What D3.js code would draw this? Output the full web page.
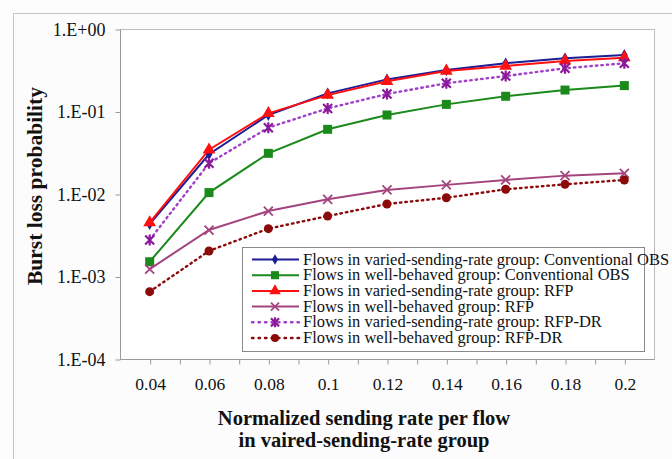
<!DOCTYPE html>
<html>
<head>
<meta charset="utf-8">
<script src="https://cdn.jsdelivr.net/npm/d3@7"></script>
<style>
  html, body { margin: 0; padding: 0; background: #fff; }
  svg { display: block; font-family: "Liberation Serif", "Times New Roman", serif; }
</style>
</head>
<body>
<div id="chart"></div>
<script>
// x values (normalized sending rate)
const rates = [0.04, 0.06, 0.08, 0.1, 0.12, 0.14, 0.16, 0.18, 0.2];
const xTickLabels = ["0.04", "0.06", "0.08", "0.1", "0.12", "0.14", "0.16", "0.18", "0.2"];
const yTickValues = [1e-4, 1e-3, 1e-2, 1e-1, 1];
const yTickLabels = ["1.E-04", "1.E-03", "1.E-02", "1.E-01", "1.E+00"];

// series values
const variedConv = [0.00433, 0.0303, 0.0907, 0.166, 0.245, 0.318, 0.384, 0.441, 0.484];
const wellConv = [0.00151, 0.0104, 0.0311, 0.0608, 0.0907, 0.122, 0.153, 0.182, 0.206];
const variedRfp = [0.00449, 0.0344, 0.095, 0.158, 0.232, 0.31, 0.356, 0.41, 0.449];
const wellRfp = [0.00123, 0.00366, 0.00622, 0.00863, 0.0112, 0.0129, 0.0148, 0.0167, 0.0178];
const variedRfpDr = [0.00277, 0.0236, 0.0637, 0.109, 0.163, 0.22, 0.269, 0.334, 0.384];
const wellRfpDr = [0.000655, 0.00204, 0.0038, 0.0054, 0.00757, 0.009, 0.0114, 0.0131, 0.0148];

const seriesNames = [
  "Flows in varied-sending-rate group: Conventional OBS",
  "Flows in well-behaved group: Conventional OBS",
  "Flows in varied-sending-rate group: RFP",
  "Flows in well-behaved group: RFP",
  "Flows in varied-sending-rate group: RFP-DR",
  "Flows in well-behaved group: RFP-DR"
];

const series = [
  { name: seriesNames[0], values: variedConv, color: "#1c1c96", marker: "diamond", dash: null },
  { name: seriesNames[1], values: wellConv, color: "#1a8a1a", marker: "square", dash: null },
  { name: seriesNames[2], values: variedRfp, color: "#ff1010", marker: "triangle", dash: null },
  { name: seriesNames[3], values: wellRfp, color: "#a4447e", marker: "x", dash: null },
  { name: seriesNames[4], values: variedRfpDr, color: "#8a1a9a", marker: "star", dash: "1.5,4", lineColor: "#a040c8" },
  { name: seriesNames[5], values: wellRfpDr, color: "#8b0a0a", marker: "circle", dash: "1.5,4" }
];

const W = 672, H = 459;
const plot = { left: 120, top: 29, right: 654, bottom: 359 };

const svg = d3.select("#chart").append("svg")
  .attr("width", W)
  .attr("height", H);

svg.append("rect").attr("width", W).attr("height", H).attr("fill", "#fdfdfd");

// outer chart frame
svg.append("rect")
  .attr("x", 13.5).attr("y", 13.5)
  .attr("width", 700).attr("height", 500)
  .attr("fill", "#fcfcfc")
  .attr("stroke", "#c4c4c4")
  .attr("stroke-width", 1);

// plot area
svg.append("rect")
  .attr("x", plot.left + 0.5).attr("y", plot.top + 0.5)
  .attr("width", plot.right - plot.left).attr("height", plot.bottom - plot.top)
  .attr("fill", "#fff")
  .attr("stroke", "#bdbdbd");

const x = d3.scaleLinear().domain([0.03, 0.21]).range([plot.left, plot.right]);
const y = d3.scaleLog().domain([1e-4, 1]).range([plot.bottom, plot.top]);

// x axis: ticks every 0.01, labels on the data values
const xTicks = d3.range(4, 21).map((k) => k / 100);
const xAxis = d3.axisBottom(x)
  .tickValues(xTicks)
  .tickSize(5)
  .tickFormat((d) => {
    const i = rates.findIndex((r) => Math.abs(r - d) < 1e-9);
    return i >= 0 ? xTickLabels[i] : "";
  });

const gx = svg.append("g")
  .attr("transform", `translate(0.5, ${plot.bottom + 0.5})`)
  .call(xAxis);
gx.select(".domain").attr("stroke", "#9a9a9a").attr("d", `M${plot.left},0H${plot.right}`);
gx.selectAll(".tick line").attr("stroke", "#9a9a9a");
gx.selectAll(".tick text")
  .attr("dy", "0")
  .attr("y", 30)
  .attr("fill", "#111")
  .style("font-size", "17.5px")
  .style("font-family", "Liberation Serif, serif");

// y axis
const yAxis = d3.axisLeft(y)
  .tickValues(yTickValues)
  .tickSize(5)
  .tickFormat((d, i) => yTickLabels[i]);

const gy = svg.append("g")
  .attr("transform", `translate(${plot.left + 0.5}, 0.5)`)
  .call(yAxis);
gy.select(".domain").attr("stroke", "#9a9a9a").attr("d", `M0,${plot.bottom}V${plot.top}`);
gy.selectAll(".tick line").attr("stroke", "#9a9a9a");
gy.selectAll(".tick text")
  .attr("x", -15)
  .attr("fill", "#111")
  .style("font-size", "18px")
  .style("font-family", "Liberation Serif, serif");

// axis titles
const xTitle = svg.append("text")
  .attr("text-anchor", "middle")
  .attr("fill", "#111")
  .style("font-size", "20.5px")
  .style("font-weight", "bold");
xTitle.append("tspan").attr("x", 364).attr("y", 425).text("Normalized sending rate per flow");
xTitle.append("tspan").attr("x", 364).attr("y", 447).text("in vaired-sending-rate group");

svg.append("text")
  .attr("transform", `translate(42, 186) rotate(-90)`)
  .attr("text-anchor", "middle")
  .attr("fill", "#111")
  .style("font-size", "21.5px")
  .style("font-weight", "bold")
  .text("Burst loss probability");

// marker drawing
function drawMarker(g, type, color, k = 1) {
  if (type === "diamond") {
    g.append("path").attr("d", d3.symbol(d3.symbolDiamond, 40 * k * k)()).attr("fill", color);
  } else if (type === "square") {
    g.append("rect").attr("x", -4.5 * k).attr("y", -4.5 * k).attr("width", 9 * k).attr("height", 9 * k).attr("fill", color);
  } else if (type === "triangle") {
    g.append("path").attr("d", d3.symbol(d3.symbolTriangle, 70 * k * k)()).attr("fill", color);
  } else if (type === "x") {
    const r = 4.5 * k;
    g.append("path").attr("d", `M${-r},${-r}L${r},${r}M${-r},${r}L${r},${-r}`)
      .attr("stroke", color).attr("stroke-width", 1.8).attr("fill", "none");
  } else if (type === "star") {
    const r = 4.5 * k;
    g.append("path").attr("d", `M${-r},${-r}L${r},${r}M${-r},${r}L${r},${-r}M0,${-r - 1}V${r + 1}`)
      .attr("stroke", color).attr("stroke-width", 2.2).attr("fill", "none");
  } else if (type === "circle") {
    g.append("circle").attr("r", 4.5 * k).attr("fill", color);
  }
}

const line = d3.line()
  .x((d) => x(d[0]))
  .y((d) => y(d[1]));

series.forEach((s) => {
  const pts = rates.map((r, i) => [r, s.values[i]]);
  svg.append("path")
    .datum(pts)
    .attr("d", line)
    .attr("fill", "none")
    .attr("stroke", s.lineColor || s.color)
    .attr("stroke-width", s.dash ? 2.4 : 2)
    .attr("stroke-linecap", s.dash ? "round" : "butt")
    .attr("stroke-dasharray", s.dash);
  pts.forEach((p) => {
    const g = svg.append("g").attr("transform", `translate(${x(p[0])}, ${y(p[1])})`);
    drawMarker(g, s.marker, s.color);
  });
});

// legend
const legend = svg.append("g");
legend.append("rect")
  .attr("x", 242.5).attr("y", 247.5)
  .attr("width", 402).attr("height", 104)
  .attr("fill", "#fff")
  .attr("stroke", "#8a8a8a");

series.forEach((s, i) => {
  const ly = 259.5 + i * 15.7;
  legend.append("line")
    .attr("x1", 252).attr("x2", 299)
    .attr("y1", ly).attr("y2", ly)
    .attr("stroke", s.lineColor || s.color)
    .attr("stroke-width", s.dash ? 2.4 : 2)
    .attr("stroke-linecap", s.dash ? "round" : "butt")
    .attr("stroke-dasharray", s.dash ? "1.5,5" : null);
  const g = legend.append("g").attr("transform", `translate(275, ${ly})`);
  drawMarker(g, s.marker, s.color, 0.9);
  legend.append("text")
    .attr("x", 303).attr("y", ly + 5)
    .attr("fill", "#111")
    .style("font-size", "16.5px")
    .text(s.name);
});
</script>
</body>
</html>
